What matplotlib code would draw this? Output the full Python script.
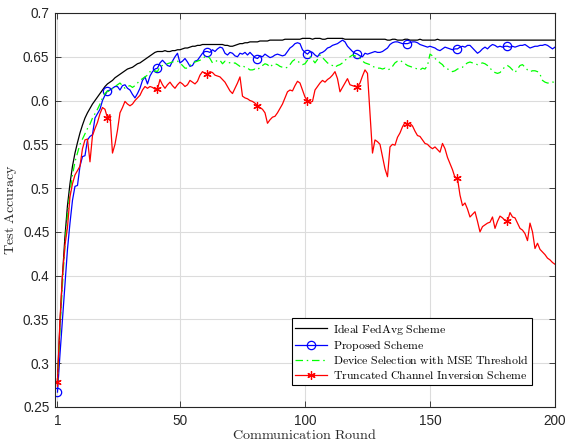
import matplotlib
matplotlib.use('Agg')
import matplotlib.pyplot as plt
import numpy as np

plt.rcParams['mathtext.fontset'] = 'cm'
plt.rcParams['font.family'] = ['Liberation Sans', 'DejaVu Sans']

# test accuracy per communication round (1..200)
ideal = [0.280, 0.345, 0.400, 0.445, 0.480, 0.505, 0.525, 0.540, 0.552, 0.563,
         0.572, 0.580, 0.586, 0.591, 0.596, 0.600, 0.604, 0.608, 0.612, 0.616,
         0.619, 0.621, 0.623, 0.626, 0.628, 0.630, 0.632, 0.634, 0.636, 0.637,
         0.638, 0.640, 0.642, 0.643, 0.645, 0.647, 0.649, 0.651, 0.653, 0.655,
         0.656, 0.656, 0.656, 0.657, 0.656, 0.656, 0.657, 0.657, 0.658, 0.658,
         0.659, 0.660, 0.660, 0.661, 0.662, 0.662, 0.663, 0.663, 0.664, 0.664,
         0.664, 0.664, 0.664, 0.664, 0.664, 0.664, 0.664, 0.663, 0.663, 0.662,
         0.662, 0.663, 0.664, 0.665, 0.665, 0.666, 0.666, 0.667, 0.667, 0.667,
         0.667, 0.668, 0.668, 0.668, 0.668, 0.669, 0.669, 0.669, 0.669, 0.669,
         0.669, 0.670, 0.670, 0.670, 0.670, 0.670, 0.670, 0.670, 0.671, 0.671,
         0.671, 0.671, 0.670, 0.671, 0.671, 0.671, 0.670, 0.670, 0.671, 0.671,
         0.671, 0.671, 0.671, 0.671, 0.671, 0.670, 0.670, 0.670, 0.670, 0.670,
         0.670, 0.670, 0.670, 0.670, 0.670, 0.670, 0.670, 0.670, 0.670, 0.670,
         0.670, 0.670, 0.669, 0.669, 0.670, 0.670, 0.669, 0.669, 0.669, 0.670,
         0.670, 0.669, 0.669, 0.669, 0.669, 0.670, 0.669, 0.669, 0.669, 0.669,
         0.669, 0.669, 0.670, 0.669, 0.669, 0.669, 0.669, 0.669, 0.669, 0.669,
         0.669, 0.669, 0.669, 0.669, 0.669, 0.669, 0.669, 0.669, 0.669, 0.669,
         0.669, 0.669, 0.669, 0.669, 0.669, 0.669, 0.669, 0.669, 0.669, 0.669,
         0.669, 0.669, 0.669, 0.669, 0.669, 0.669, 0.669, 0.669, 0.669, 0.669,
         0.669, 0.669, 0.669, 0.669, 0.669, 0.669, 0.669, 0.669, 0.669, 0.669]

proposed = [0.267, 0.310, 0.350, 0.390, 0.430, 0.460, 0.486, 0.502, 0.503, 0.525,
            0.536, 0.537, 0.555, 0.559, 0.561, 0.580, 0.585, 0.590, 0.600, 0.606,
            0.611, 0.612, 0.614, 0.616, 0.616, 0.612, 0.617, 0.618, 0.614, 0.612,
            0.607, 0.603, 0.608, 0.614, 0.623, 0.627, 0.619, 0.628, 0.633, 0.636,
            0.637, 0.643, 0.646, 0.643, 0.640, 0.639, 0.645, 0.650, 0.654, 0.643,
            0.645, 0.648, 0.644, 0.639, 0.640, 0.645, 0.646, 0.650, 0.654, 0.656,
            0.656, 0.655, 0.658, 0.656, 0.659, 0.661, 0.660, 0.654, 0.652, 0.655,
            0.654, 0.651, 0.650, 0.654, 0.653, 0.655, 0.652, 0.655, 0.652, 0.649,
            0.648, 0.651, 0.650, 0.653, 0.651, 0.649, 0.650, 0.652, 0.653, 0.652,
            0.651, 0.652, 0.656, 0.660, 0.662, 0.665, 0.666, 0.665, 0.658, 0.655,
            0.653, 0.656, 0.655, 0.652, 0.650, 0.654, 0.655, 0.657, 0.660, 0.661,
            0.663, 0.664, 0.665, 0.667, 0.669, 0.667, 0.662, 0.659, 0.656, 0.654,
            0.653, 0.651, 0.650, 0.654, 0.653, 0.654, 0.655, 0.656, 0.655, 0.655,
            0.656, 0.658, 0.660, 0.664, 0.666, 0.667, 0.667, 0.666, 0.665, 0.665,
            0.665, 0.666, 0.667, 0.667, 0.666, 0.664, 0.663, 0.662, 0.661, 0.662,
            0.661, 0.660, 0.658, 0.657, 0.659, 0.661, 0.660, 0.659, 0.658, 0.659,
            0.659, 0.661, 0.662, 0.661, 0.663, 0.663, 0.660, 0.657, 0.654, 0.656,
            0.659, 0.661, 0.659, 0.662, 0.664, 0.663, 0.661, 0.662, 0.661, 0.662,
            0.662, 0.661, 0.662, 0.661, 0.662, 0.663, 0.663, 0.664, 0.662, 0.660,
            0.661, 0.662, 0.662, 0.663, 0.663, 0.664, 0.663, 0.661, 0.659, 0.661]

mse_sel = [0.275, 0.340, 0.390, 0.435, 0.470, 0.495, 0.515, 0.530, 0.540, 0.550,
           0.556, 0.562, 0.568, 0.573, 0.580, 0.585, 0.590, 0.596, 0.603, 0.608,
           0.611, 0.610, 0.614, 0.616, 0.618, 0.620, 0.617, 0.614, 0.616, 0.617,
           0.615, 0.617, 0.620, 0.623, 0.625, 0.627, 0.629, 0.633, 0.632, 0.634,
           0.633, 0.639, 0.640, 0.641, 0.642, 0.643, 0.644, 0.645, 0.645, 0.643,
           0.640, 0.637, 0.637, 0.640, 0.643, 0.644, 0.645, 0.646, 0.648, 0.650,
           0.651, 0.648, 0.643, 0.644, 0.646, 0.646, 0.642, 0.645, 0.644, 0.643,
           0.642, 0.643, 0.641, 0.639, 0.640, 0.638, 0.637, 0.635, 0.635, 0.636,
           0.635, 0.638, 0.640, 0.642, 0.641, 0.638, 0.641, 0.642, 0.641, 0.639,
           0.638, 0.637, 0.638, 0.641, 0.645, 0.647, 0.645, 0.643, 0.641, 0.642,
           0.646, 0.650, 0.647, 0.643, 0.647, 0.652, 0.649, 0.646, 0.643, 0.641,
           0.640, 0.638, 0.640, 0.641, 0.643, 0.646, 0.648, 0.650, 0.652, 0.651,
           0.650, 0.648, 0.645, 0.643, 0.642, 0.641, 0.639, 0.638, 0.637, 0.637,
           0.636, 0.637, 0.635, 0.636, 0.639, 0.643, 0.645, 0.646, 0.644, 0.642,
           0.640, 0.639, 0.638, 0.637, 0.636, 0.635, 0.637, 0.636, 0.640, 0.653,
           0.651, 0.648, 0.646, 0.643, 0.641, 0.637, 0.636, 0.635, 0.633, 0.634,
           0.636, 0.637, 0.638, 0.641, 0.643, 0.644, 0.643, 0.642, 0.641, 0.642,
           0.643, 0.642, 0.640, 0.637, 0.634, 0.632, 0.631, 0.632, 0.635, 0.639,
           0.640, 0.638, 0.635, 0.632, 0.636, 0.640, 0.641, 0.638, 0.635, 0.633,
           0.634, 0.634, 0.633, 0.630, 0.623, 0.621, 0.620, 0.620, 0.621, 0.621]

truncated = [0.279, 0.350, 0.400, 0.435, 0.455, 0.490, 0.505, 0.515, 0.520, 0.525,
             0.545, 0.555, 0.556, 0.530, 0.560, 0.568, 0.575, 0.585, 0.592, 0.590,
             0.580, 0.584, 0.540, 0.550, 0.566, 0.586, 0.592, 0.599, 0.596, 0.594,
             0.596, 0.600, 0.603, 0.606, 0.612, 0.616, 0.614, 0.616, 0.615, 0.613,
             0.613, 0.624, 0.618, 0.614, 0.618, 0.621, 0.617, 0.614, 0.618, 0.621,
             0.619, 0.616, 0.618, 0.623, 0.621, 0.619, 0.622, 0.629, 0.633, 0.631,
             0.630, 0.633, 0.632, 0.629, 0.628, 0.627, 0.624, 0.621, 0.616, 0.611,
             0.608, 0.614, 0.620, 0.627, 0.605, 0.603, 0.602, 0.600, 0.599, 0.597,
             0.594, 0.592, 0.590, 0.586, 0.574, 0.578, 0.581, 0.582, 0.586, 0.591,
             0.596, 0.603, 0.610, 0.612, 0.611, 0.617, 0.622, 0.620, 0.612, 0.604,
             0.600, 0.598, 0.599, 0.612, 0.616, 0.620, 0.623, 0.621, 0.624, 0.626,
             0.629, 0.633, 0.625, 0.610, 0.615, 0.620, 0.625, 0.618, 0.617, 0.616,
             0.616, 0.620, 0.628, 0.635, 0.631, 0.585, 0.540, 0.555, 0.553, 0.550,
             0.536, 0.522, 0.513, 0.547, 0.550, 0.549, 0.558, 0.563, 0.570, 0.575,
             0.573, 0.574, 0.571, 0.565, 0.560, 0.559, 0.555, 0.551, 0.550, 0.547,
             0.545, 0.547, 0.544, 0.541, 0.551, 0.545, 0.535, 0.528, 0.521, 0.512,
             0.511, 0.492, 0.480, 0.483, 0.476, 0.467, 0.470, 0.473, 0.462, 0.450,
             0.456, 0.458, 0.460, 0.461, 0.467, 0.454, 0.462, 0.468, 0.466, 0.463,
             0.462, 0.472, 0.467, 0.466, 0.460, 0.454, 0.452, 0.448, 0.440, 0.460,
             0.450, 0.431, 0.437, 0.430, 0.427, 0.424, 0.420, 0.418, 0.415, 0.413]

rounds = np.arange(1, len(ideal) + 1)
xticks = [1, 50, 100, 150, 200]
yticks = [0.25, 0.3, 0.35, 0.4, 0.45, 0.5, 0.55, 0.6, 0.65, 0.7]

fig = plt.figure(figsize=(5.65, 4.43), dpi=100)
ax = fig.add_axes([0.0973, 0.0813, 0.885, 0.8894])

ax.plot(rounds, ideal, color='k', lw=0.9, label=r'$\mathrm{Ideal\ FedAvg\ Scheme}$')
ax.plot(rounds, proposed, color='#0000ff', lw=0.9, marker='o', ms=6, mfc='none',
        mew=0.9, markevery=20, label=r'$\mathrm{Proposed\ Scheme}$')
ax.plot(rounds, mse_sel, color='#00ff00', lw=0.9, ls=(0, (6, 3, 1.2, 3)),
        label=r'$\mathrm{Device\ Selection\ with\ MSE\ Threshold}$')
ax.plot(rounds, truncated, color='#ff0000', lw=0.9, marker=(6, 2, 0), ms=6,
        mew=0.9, markevery=20, label=r'$\mathrm{Truncated\ Channel\ Inversion\ Scheme}$')

ax.set_xlim(0, 200)
ax.set_ylim(0.25, 0.7)
ax.set_xticks(xticks)
ax.set_yticks(yticks)
ax.set_yticklabels([('%g' % v) for v in yticks])
ax.tick_params(direction='in', top=True, right=True, labelsize=9.8,
               colors='#262626', length=4, width=0.6, pad=4)
ax.tick_params(axis='x', pad=5)
ax.grid(True, color='#dcdcdc', lw=0.8)
ax.set_axisbelow(True)
for s in ax.spines.values():
    s.set_color('#262626')
    s.set_linewidth(0.8)

ax.set_xlabel(r'$\mathrm{Communication\ Round}$', fontsize=10.2, color='#262626', labelpad=0)
ax.set_ylabel(r'$\mathrm{Test\ Accuracy}$', fontsize=10.2, color='#262626', labelpad=3)

leg = ax.legend(loc='lower right', bbox_to_anchor=(0.955, 0.055), fontsize=8.5,
                fancybox=False, framealpha=1, edgecolor='k', borderpad=0.3,
                labelspacing=0.12, handlelength=2.7, handletextpad=0.5, borderaxespad=0)
leg.get_frame().set_linewidth(0.8)

fig.savefig('out.png', dpi=100)
